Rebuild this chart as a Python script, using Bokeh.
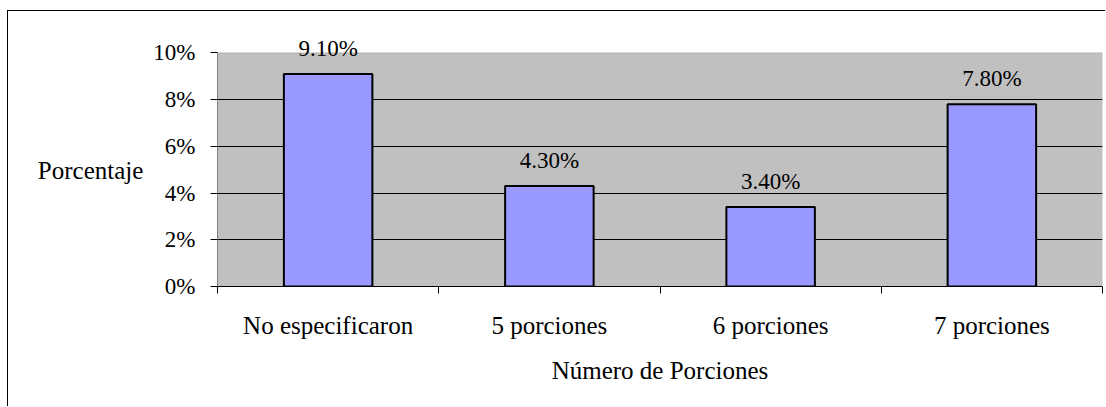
from bokeh.plotting import figure
from bokeh.models import Range1d, FixedTicker, NumeralTickFormatter, ColumnDataSource, LabelSet, BoxAnnotation
from bokeh.embed import file_html
from bokeh.resources import INLINE

categories = ["No especificaron", "5 porciones", "6 porciones", "7 porciones"]
percentages = [0.091, 0.043, 0.034, 0.078]
value_labels = ["9.10%", "4.30%", "3.40%", "7.80%"]
y_ticks = [0.0, 0.02, 0.04, 0.06, 0.08, 0.10]

FONT = "Liberation Serif"
Y_MAX = y_ticks[-1]

xs = [i + 0.5 for i in range(len(categories))]
src = ColumnDataSource(dict(x=xs, top=percentages, label=value_labels))

p = figure(width=1098, height=396, output_backend="svg", toolbar_location=None,
           x_range=Range1d(0, len(categories)), y_range=Range1d(0, Y_MAX * 1.1),
           min_border_left=209, min_border_right=4, min_border_top=18, min_border_bottom=121,
           background_fill_color="white", border_fill_color="white",
           outline_line_color=None,
           styles={"border-left": "1px solid black", "border-top": "1px solid black",
                   "margin-top": "10px", "margin-left": "7px"})

# grey plot area with grey outline
bg = BoxAnnotation(left=0, right=len(categories), bottom=0, top=Y_MAX,
                   fill_color="#C0C0C0", fill_alpha=1.0,
                   line_color="#808080", line_width=1, level="image")
p.add_layout(bg)

p.vbar(x="x", top="top", width=0.4, bottom=0, source=src,
       fill_color="#9999FF", line_color="black", line_width=2)

labels = LabelSet(x="x", y="top", text="label", source=src, text_align="center",
                  text_baseline="alphabetic", y_offset=18, text_font=FONT,
                  text_font_size="23px", text_color="black")
p.add_layout(labels)

# x axis
p.xaxis.ticker = FixedTicker(ticks=xs, minor_ticks=list(range(len(categories) + 1)))
p.xaxis.major_label_overrides = {x: c for x, c in zip(xs, categories)}
p.xaxis.major_tick_line_color = None
p.xaxis.minor_tick_line_color = "black"
p.xaxis.minor_tick_out = 7
p.xaxis.minor_tick_in = 0
p.xaxis.axis_line_color = "black"
p.xaxis.major_label_standoff = 18
p.xaxis.major_label_text_font = FONT
p.xaxis.major_label_text_font_size = "25px"
p.xaxis.major_label_text_color = "black"
p.xaxis.axis_label = "Número de Porciones"
p.xaxis.axis_label_text_font = FONT
p.xaxis.axis_label_text_font_size = "25px"
p.xaxis.axis_label_text_font_style = "normal"
p.xaxis.axis_label_text_color = "black"
p.xaxis.axis_label_standoff = 15

# y axis
p.yaxis.ticker = FixedTicker(ticks=y_ticks, minor_ticks=[])
p.yaxis.bounds = (0, Y_MAX)
p.yaxis.formatter = NumeralTickFormatter(format="0%")
p.yaxis.major_tick_out = 7
p.yaxis.major_tick_in = 0
p.yaxis.major_tick_line_color = "black"
p.yaxis.axis_line_color = "#808080"
p.yaxis.major_label_standoff = 15
p.yaxis.major_label_text_font = FONT
p.yaxis.major_label_text_font_size = "23px"
p.yaxis.major_label_text_color = "black"
p.yaxis.axis_label = "\nPorcentaje"
p.yaxis.axis_label_orientation = "horizontal"
p.yaxis.axis_label_text_font = FONT
p.yaxis.axis_label_text_font_size = "25px"
p.yaxis.axis_label_text_font_style = "normal"
p.yaxis.axis_label_text_color = "black"
p.yaxis.axis_label_text_line_height = 0.9
p.yaxis.axis_label_standoff = 7

p.xgrid.grid_line_color = None
p.ygrid.ticker = FixedTicker(ticks=y_ticks[1:-1], minor_ticks=[])
p.ygrid.grid_line_color = "black"
p.ygrid.grid_line_width = 1

open("out.html", "w").write(file_html(p, INLINE))
